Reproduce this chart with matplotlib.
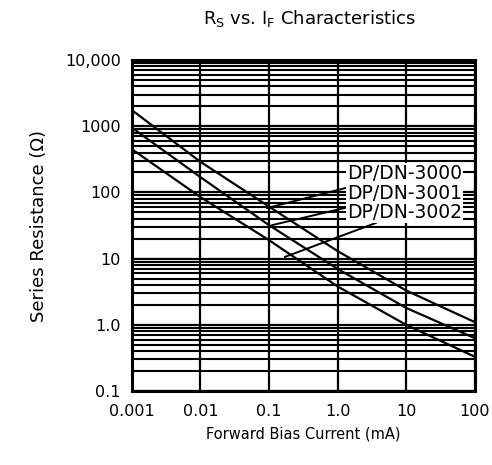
import matplotlib
matplotlib.use("Agg")
import matplotlib.pyplot as plt
from matplotlib.ticker import LogLocator, NullFormatter, FixedLocator, FixedFormatter

plt.rcParams['font.family'] = ['DejaVu Sans']

# forward current (mA) and series resistance (ohm)
current_ma = [0.001, 0.01, 0.1, 1.0, 10, 100]
rs_3000 = [1750, 290, 61, 13, 3.3, 1.1]
rs_3001 = [950, 170, 32, 7.0, 1.8, 0.63]
rs_3002 = [450, 85, 19, 3.8, 1.0, 0.33]

part_names = ['DP/DN-3000', 'DP/DN-3001', 'DP/DN-3002']
label_pos = [(1.36, 196), (1.36, 95), (1.36, 50)]
leader_end = [(0.093, 58), (0.11, 32), (0.17, 10.6)]

x_ticks = [0.001, 0.01, 0.1, 1.0, 10, 100]
x_ticklabels = ['0.001', '0.01', '0.1', '1.0', '10', '100']
y_ticks = [0.1, 1, 10, 100, 1000, 10000]
y_ticklabels = ['0.1', '1.0', '10', '100', '1000', '10,000']

fig = plt.figure(figsize=(4.92, 4.65), dpi=100)
ax = fig.add_axes([0.268, 0.159, 0.697, 0.712])

ax.set_xscale('log')
ax.set_yscale('log')
ax.set_xlim(0.001, 100)
ax.set_ylim(0.1, 10000)

for rs in (rs_3000, rs_3001, rs_3002):
    ax.plot(current_ma, rs, color='black', lw=1.6, zorder=3)

# grid: decades only on x, every minor step on y
ax.xaxis.set_major_locator(FixedLocator(x_ticks))
ax.xaxis.set_major_formatter(FixedFormatter(x_ticklabels))
ax.xaxis.set_minor_locator(LogLocator(base=10, subs=[]))
ax.xaxis.set_minor_formatter(NullFormatter())
ax.yaxis.set_major_locator(FixedLocator(y_ticks))
ax.yaxis.set_major_formatter(FixedFormatter(y_ticklabels))
ax.yaxis.set_minor_locator(LogLocator(base=10, subs=range(2, 10), numticks=20))
ax.yaxis.set_minor_formatter(NullFormatter())

ax.grid(True, which='major', axis='both', color='black', lw=1.6, zorder=1)
ax.grid(True, which='minor', axis='y', color='black', lw=1.5, zorder=1)
ax.tick_params(which='both', length=0, labelsize=11.5)
ax.tick_params(axis='x', pad=9)
ax.tick_params(axis='y', pad=8)

for s in ax.spines.values():
    s.set_linewidth(2.2)

for name, (tx, ty), (ex, ey) in zip(part_names, label_pos, leader_end):
    ax.annotate(name, xy=(ex, ey), xytext=(tx, ty), fontsize=13.5,
                va='center', ha='left',
                bbox=dict(boxstyle='square,pad=0.05', fc='white', ec='none'),
                arrowprops=dict(arrowstyle='-', color='black', lw=1.4,
                                shrinkA=0, shrinkB=0),
                zorder=4)

ax.set_xlabel('Forward Bias Current (mA)', fontsize=10.5, labelpad=6)
ax.set_ylabel('Series Resistance (\u03a9)', fontsize=13, labelpad=12)
fig.text(0.63, 0.961, r'R$_\mathregular{S}$ vs. I$_\mathregular{F}$ Characteristics',
         ha='center', va='center', fontsize=13)

fig.savefig('out.png', dpi=100)
